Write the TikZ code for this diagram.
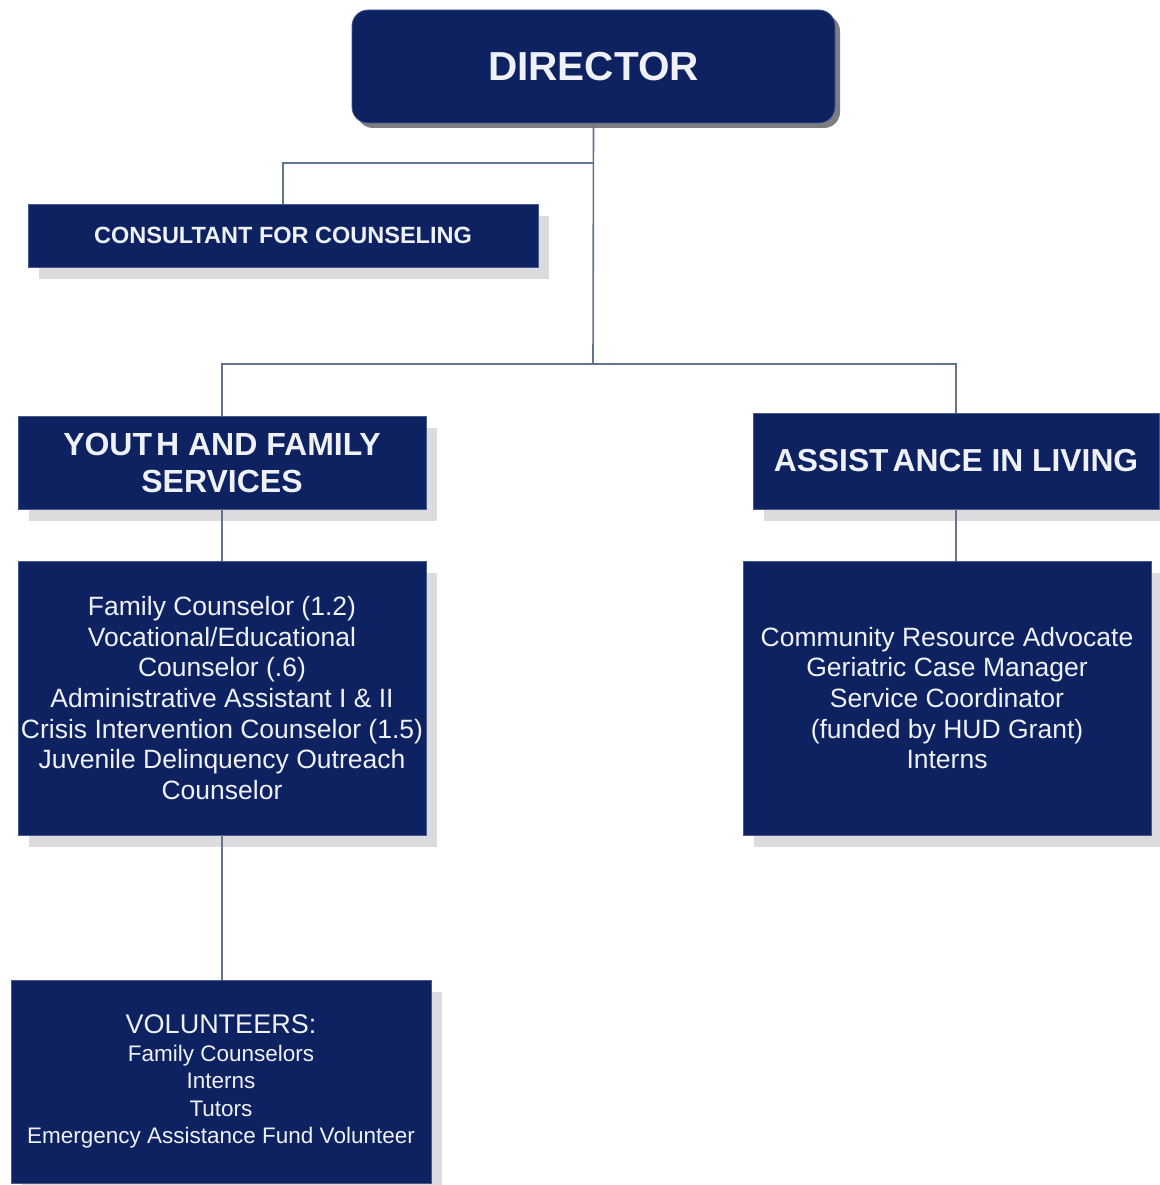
\documentclass[tikz,border=0pt]{standalone}
\usepackage{fontspec}
\setmainfont{Liberation Sans}
\usetikzlibrary{shadows}
\definecolor{navy}{RGB}{14,33,96}
\definecolor{navyedge}{RGB}{70,90,140}
\definecolor{shade}{RGB}{220,220,222}
\definecolor{dshade}{RGB}{125,125,130}
\definecolor{txt}{RGB}{238,241,247}
\definecolor{wire}{RGB}{100,116,140}
\begin{document}
\begin{tikzpicture}[x=1pt,y=-1pt,
  basebox/.style={draw=navyedge,line width=0.8pt,fill=navy,text=txt,align=center,inner sep=0pt},
  box/.style={basebox,general shadow={fill=shade,shadow xshift=11pt,shadow yshift=-12pt}},
  bodytext/.style={font=\fontsize{26.5}{30.7}\selectfont},
  wirestyle/.style={draw=wire,line width=1.6pt}]
\useasboundingbox (0,0) rectangle (1159,1185);
\node[basebox,rounded corners=16pt,minimum width=483pt,minimum height=113pt,
  general shadow={fill=dshade,shadow xshift=5pt,shadow yshift=-5pt},
  font=\fontsize{40.5}{46}\selectfont\bfseries]
  (dir) at (593.5,66.5) {DIRECTOR};
\node[box,minimum width=510pt,minimum height=63pt,font=\fontsize{23.5}{27}\selectfont\bfseries]
  (cons) at (283,235.5) {CONSULTANT FOR COUNSELING};
\node[box,minimum width=408pt,minimum height=93pt,font=\fontsize{32}{37}\selectfont\bfseries]
  (yfs) at (222,462.5) {YOUT\kern4pt H AND FAMILY\\SERVICES};
\node[box,minimum width=406pt,minimum height=96pt,font=\fontsize{31.8}{37}\selectfont\bfseries]
  (ail) at (956,461) {ASSIST\kern4pt ANCE IN LIVING};
\node[box,bodytext,minimum width=408pt,minimum height=274pt] (fam) at (222,698)
  {Family Counselor (1.2)\\Vocational/Educational\\Counselor (.6)\\Administrative Assistant I \& II\\Crisis Intervention Counselor (1.5)\\Juvenile Delinquency Outreach\\Counselor};
\node[box,bodytext,minimum width=408pt,minimum height=274pt] (com) at (947,698)
  {Community Resource Advocate\\Geriatric Case Manager\\Service Coordinator\\(funded by HUD Grant)\\Interns};
\node[box,minimum width=420pt,minimum height=203pt,font=\fontsize{22.5}{27.5}\selectfont]
  (vol) at (221,1081.5)
  {{\fontsize{27}{29}\selectfont VOLUNTEERS:}\\Family Counselors\\Interns\\Tutors\\Emergency Assistance Fund Volunteer};
\coordinate (j1) at (593,163);
\coordinate (j2) at (593,364);
\draw[wirestyle] (dir.south) -- (j2);
\draw[wirestyle] (j1) -| (cons.north);
\draw[wirestyle] (j2) -| (yfs.north);
\draw[wirestyle] (j2) -| (ail.north);
\draw[wirestyle] (ail.south) -- (ail.south |- com.north);
\draw[wirestyle] (yfs.south) -- (fam.north);
\draw[wirestyle] (fam.south) -- (fam.south |- vol.north);
\end{tikzpicture}
\end{document}
